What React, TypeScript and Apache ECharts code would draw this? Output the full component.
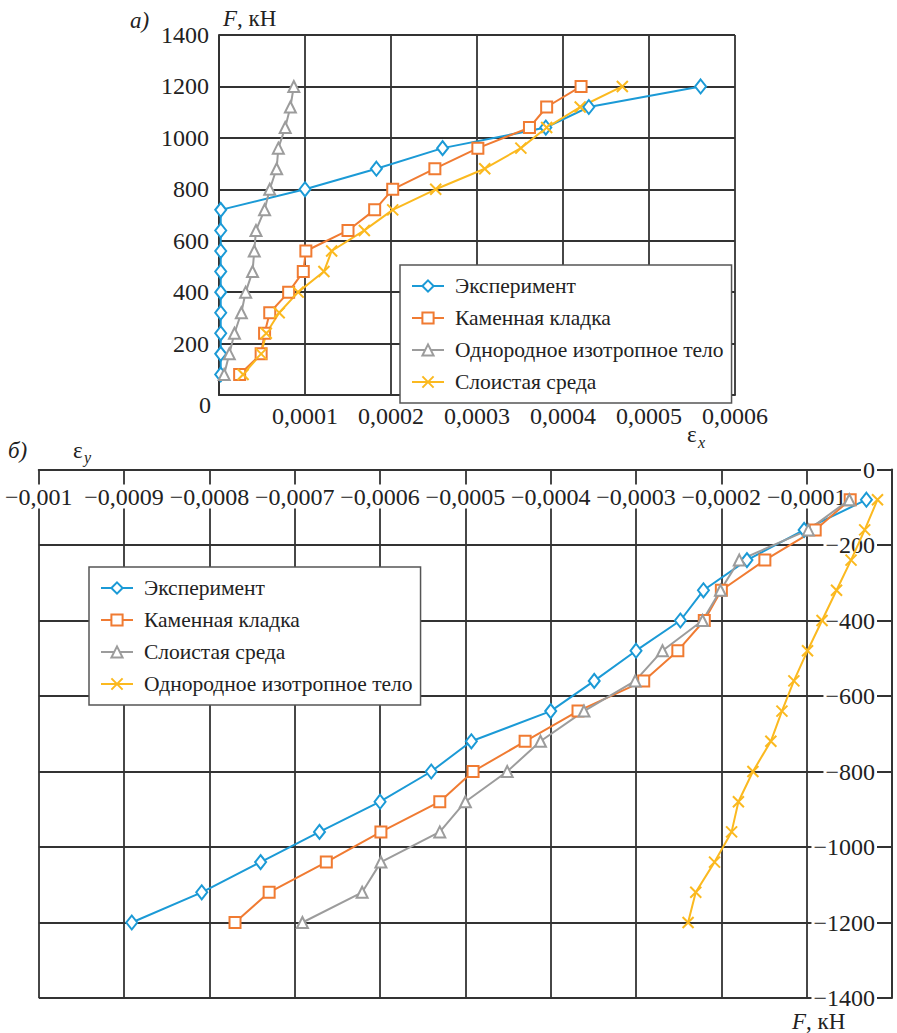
import React, { useEffect, useRef } from "react";
import * as echarts from "echarts";

// ---- Panel a) : F (kN) vs εx ----
const loadsTop = [80, 160, 240, 320, 400, 480, 560, 640, 720, 800, 880, 960, 1040, 1120, 1200];
const expTop = [0.000002, 0.000002, 0.000002, 0.000002, 0.000002, 0.000002, 0.000002, 0.000002, 0.000002, 0.0001, 0.000183, 0.00026, 0.00038, 0.00043, 0.00056];
const masonryTop = [0.000024, 0.000049, 0.000053, 0.000059, 0.000081, 0.000098, 0.000101, 0.00015, 0.000181, 0.000202, 0.000251, 0.000301, 0.000361, 0.000381, 0.000421];
const isoTop = [0.000006, 0.000012, 0.000018, 0.000026, 0.000031, 0.000039, 0.000041, 0.000043, 0.000053, 0.000059, 0.000067, 0.000069, 0.000077, 0.000083, 0.000087];
const layeredTop = [0.000028, 0.000049, 0.000055, 0.00007, 0.000092, 0.000122, 0.000131, 0.000169, 0.000202, 0.000252, 0.000309, 0.000351, 0.000381, 0.00042, 0.000469];

// ---- Panel б) : F (kN) vs εy ----
const loadsBottom = [-80, -160, -240, -320, -400, -480, -560, -640, -720, -800, -880, -960, -1040, -1120, -1200];
const expBottom = [-0.00003, -0.000103, -0.00017, -0.000221, -0.000248, -0.0003, -0.000349, -0.0004, -0.000493, -0.00054, -0.0006, -0.000671, -0.00074, -0.000809, -0.000891];
const masonryBottom = [-0.000049, -0.00009, -0.000149, -0.0002, -0.00022, -0.000251, -0.000291, -0.000368, -0.00043, -0.000491, -0.00053, -0.000599, -0.000663, -0.00073, -0.00077];
const layeredBottom = [-0.00005, -0.000098, -0.000179, -0.000201, -0.000222, -0.000269, -0.000301, -0.000361, -0.000412, -0.000451, -0.0005, -0.00053, -0.000599, -0.000621, -0.000691];
const isoBottom = [-0.000017, -0.000032, -0.000048, -0.000065, -0.000082, -0.000099, -0.000115, -0.000129, -0.000142, -0.000163, -0.00018, -0.000188, -0.000208, -0.00023, -0.000239];

const legendTop = ["Эксперимент", "Каменная кладка", "Однородное изотропное тело", "Слоистая среда"];
const legendBottom = ["Эксперимент", "Каменная кладка", "Слоистая среда", "Однородное изотропное тело"];

const FONT = "Liberation Serif";
const BLUE = "#1b9ad6";
const ORANGE = "#f07b32";
const GRAY = "#9c9c9c";
const YELLOW = "#fbb91f";
const GRID = "#333";
const CROSS = "path://M0,0L10,10M10,0L0,10";

function pairs(xs: number[], ys: number[]) {
  return ys.map((y, i) => [xs[i], y]);
}

function mk(name: string, data: number[][], color: string, symbol: string, size: any, idx: number) {
  return {
    type: "line",
    name,
    xAxisIndex: idx,
    yAxisIndex: idx,
    data,
    symbol,
    symbolSize: size,
    showAllSymbol: true,
    clip: false,
    lineStyle: { color, width: 2 },
    itemStyle: { color: symbol === CROSS ? color : "#fff", borderColor: color, borderWidth: 2 },
    emphasis: { disabled: true },
  };
}

function fmtTop(v: number) {
  if (Math.abs(v) < 1e-9) return "";
  return v.toFixed(4).replace(".", ",");
}
function fmtBottom(v: number) {
  if (Math.abs(v) < 1e-9) return "";
  const a = Math.abs(v);
  if (a > 0.00099) return "−0,001";
  return "−" + a.toFixed(4).replace(".", ",");
}

function txt(x: number, y: number, text: string, size: number, italic = false, align = "left") {
  return {
    type: "text",
    x,
    y,
    style: {
      text,
      fill: "#222",
      font: (italic ? "italic " : "") + size + "px " + FONT,
      align,
      verticalAlign: "middle",
    },
  };
}

export default function App() {
  const ref = useRef<HTMLDivElement>(null);
  useEffect(() => {
    if (!ref.current) return;
    const chart = echarts.init(ref.current, undefined, { renderer: "svg" });
    const labelStyle = { fontFamily: FONT, fontSize: 24, color: "#222" };
    const split = { show: true, lineStyle: { color: GRID, width: 1.8 } };
    const legendCommon = {
      orient: "vertical",
      itemWidth: 32,
      itemHeight: 14,
      itemGap: 10,
      padding: [10, 8, 10, 11],
      borderColor: "#555",
      borderWidth: 1.5,
      backgroundColor: "#fff",
      selectedMode: false,
      formatter: (n: string) => n.slice(2),
      textStyle: { fontFamily: FONT, fontSize: 21.5, color: "#222", padding: [0, 0, 0, 6] },
    };
    const fUnit = (x: number, y: number) => ({
      type: "text",
      x,
      y,
      style: {
        text: "{i|F}, кН",
        fill: "#222",
        fontFamily: FONT,
        fontSize: 23,
        verticalAlign: "middle",
        rich: { i: { fontStyle: "italic", fontFamily: FONT, fontSize: 23 } },
      },
    });
    chart.setOption({
      animation: false,
      backgroundColor: "#fff",
      grid: [
        { left: 219, top: 35, width: 516, height: 360 },
        { left: 36, top: 469.5, width: 862, height: 528.5 },
      ],
      xAxis: [
        {
          gridIndex: 0,
          type: "value",
          min: 0,
          max: 0.0006,
          interval: 0.0001,
          axisLine: { show: true, onZero: false, lineStyle: { color: GRID, width: 2 } },
          axisTick: { show: false },
          axisLabel: { ...labelStyle, margin: 9, formatter: fmtTop, showMinLabel: true, showMaxLabel: true },
          splitLine: split,
        },
        {
          gridIndex: 1,
          type: "value",
          position: "top",
          min: -0.001,
          max: 0,
          interval: 0.0001,
          axisLine: { show: true, onZero: false, lineStyle: { color: GRID, width: 2 } },
          axisTick: { show: false },
          axisLabel: {
            ...labelStyle,
            inside: true,
            margin: 15,
            backgroundColor: "#fff",
            padding: [0, 2],
            formatter: fmtBottom,
            showMinLabel: true,
            showMaxLabel: true,
          },
          splitLine: split,
        },
      ],
      yAxis: [
        {
          gridIndex: 0,
          type: "value",
          min: 0,
          max: 1400,
          interval: 200,
          axisLine: { show: true, onZero: false, lineStyle: { color: GRID, width: 2 } },
          axisTick: { show: false },
          axisLabel: { ...labelStyle, margin: 10, formatter: (v: number) => (v === 0 ? "" : String(v)) },
          splitLine: split,
        },
        {
          gridIndex: 1,
          type: "value",
          position: "right",
          min: -1400,
          max: 0,
          interval: 200,
          axisLine: { show: true, onZero: false, lineStyle: { color: GRID, width: 2 } },
          axisTick: { show: true, inside: true, length: 12, lineStyle: { color: GRID, width: 1.5 } },
          axisLabel: {
            ...labelStyle,
            inside: true,
            margin: 15,
            backgroundColor: "#fff",
            padding: [0, 2],
            formatter: (v: number) => (v === 0 ? "0" : "−" + Math.abs(v)),
          },
          splitLine: split,
        },
      ],
      legend: [
        { ...legendCommon, left: 400, top: 265, data: legendTop.map((n) => "a:" + n) },
        { ...legendCommon, left: 89, top: 567, data: legendBottom.map((n) => "b:" + n) },
      ],
      series: [
        mk("a:" + legendTop[0], pairs(expTop, loadsTop), BLUE, "diamond", [11, 14], 0),
        mk("a:" + legendTop[1], pairs(masonryTop, loadsTop), ORANGE, "rect", 11, 0),
        mk("a:" + legendTop[2], pairs(isoTop, loadsTop), GRAY, "triangle", 11, 0),
        mk("a:" + legendTop[3], pairs(layeredTop, loadsTop), YELLOW, CROSS, 11, 0),
        mk("b:" + legendBottom[0], pairs(expBottom, loadsBottom), BLUE, "diamond", [11, 14], 1),
        mk("b:" + legendBottom[1], pairs(masonryBottom, loadsBottom), ORANGE, "rect", 11, 1),
        mk("b:" + legendBottom[2], pairs(layeredBottom, loadsBottom), GRAY, "triangle", 11, 1),
        mk("b:" + legendBottom[3], pairs(isoBottom, loadsBottom), YELLOW, CROSS, 11, 1),
      ],
      graphic: [
        txt(130, 20, "а)", 23, true),
        fUnit(223, 18),
        txt(205, 405, "0", 24, false, "center"),
        txt(687, 434, "ε", 23),
        txt(698, 442, "x", 16, true),
        txt(8, 450, "б)", 23, true),
        txt(73, 450, "ε", 23),
        txt(84, 457, "y", 16, true),
        fUnit(792, 1021),
      ],
    });
    return () => chart.dispose();
  }, []);
  return <div ref={ref} style={{ position: "absolute", left: 0, top: 0, width: 897, height: 1033 }} />;
}
